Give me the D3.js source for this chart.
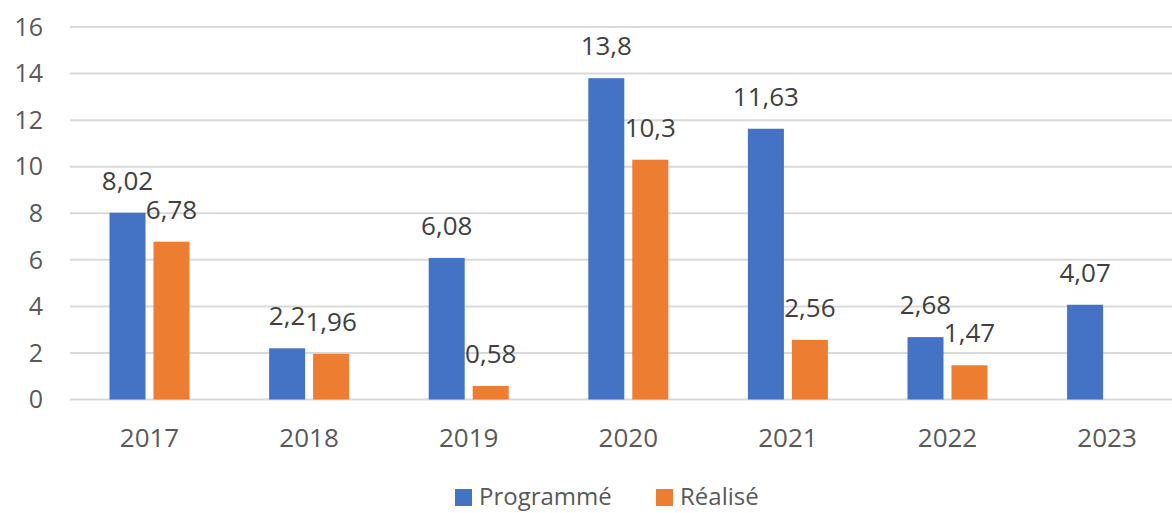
<!DOCTYPE html>
<html>
<head>
<meta charset="utf-8">
<script src="https://cdn.jsdelivr.net/npm/d3@7"></script>
<style>
  body { margin: 0; background: #fff; }
  svg { display: block; font-family: "Open Sans", "Noto Sans", sans-serif; }
</style>
</head>
<body>
<div id="chart"></div>
<script>
// data
const years = ["2017", "2018", "2019", "2020", "2021", "2022", "2023"];
const programme = [8.02, 2.2, 6.08, 13.8, 11.63, 2.68, 4.07];
const realise = [6.78, 1.96, 0.58, 10.3, 2.56, 1.47, null];
const series_names = ["Programmé", "Réalisé"];
const series_colors = ["#4472C4", "#ED7D31"];
const y_ticks = [0, 2, 4, 6, 8, 10, 12, 14, 16];

const width = 1172,
  height = 513;

const svg = d3
  .select("#chart")
  .append("svg")
  .attr("width", width)
  .attr("height", height);

// x: one band per year, the last one runs off the right edge like the source
const x = d3.scaleBand().domain(years).range([69.7, 1186.9]).padding(0);
const group_w = 80;
const xs = d3
  .scaleBand()
  .domain([0, 1])
  .range([0, group_w])
  .paddingInner(8 / 44);

const y = d3.scaleLinear().domain([0, 16]).range([399.5, 27]);

// gridlines
svg
  .append("g")
  .selectAll("line")
  .data(y_ticks)
  .join("line")
  .attr("x1", 70)
  .attr("x2", width)
  .attr("y1", (d) => y(d))
  .attr("y2", (d) => y(d))
  .attr("stroke", "#d9d9d9")
  .attr("stroke-width", 2);

// y tick labels
svg
  .append("g")
  .selectAll("text")
  .data(y_ticks)
  .join("text")
  .attr("x", 43)
  .attr("y", (d) => y(d))
  .attr("dy", "0.35em")
  .attr("text-anchor", "end")
  .style("font-size", "25px")
  .style("fill", "#595959")
  .text((d) => d);

// x labels
svg
  .append("g")
  .selectAll("text")
  .data(years)
  .join("text")
  .attr("x", (d) => x(d) + x.bandwidth() / 2)
  .attr("y", 447)
  .attr("text-anchor", "middle")
  .style("font-size", "26px")
  .style("fill", "#595959")
  .text((d) => d);

// flatten into bar records
const bars = [];
years.forEach(function (yr, i) {
  [programme[i], realise[i]].forEach(function (v, s) {
    if (v !== null) bars.push({ year: yr, series: s, value: v });
  });
});

const fmt = (v) => String(v).replace(".", ",");
const bar_x = (d) =>
  x(d.year) + (x.bandwidth() - group_w) / 2 + xs(d.series);

svg
  .append("g")
  .selectAll("rect")
  .data(bars)
  .join("rect")
  .attr("x", bar_x)
  .attr("width", xs.bandwidth())
  .attr("y", (d) => y(d.value))
  .attr("height", (d) => y(0) - y(d.value))
  .attr("fill", (d) => series_colors[d.series]);

// value labels
svg
  .append("g")
  .selectAll("text")
  .data(bars)
  .join("text")
  .attr("x", (d) => bar_x(d) + xs.bandwidth() / 2)
  .attr("y", (d) => y(d.value) - 23)
  .attr("text-anchor", "middle")
  .style("font-size", "26px")
  .style("fill", "#404040")
  .text((d) => fmt(d.value));

// legend
const legend_x = [455, 656];
const lg = svg
  .append("g")
  .selectAll("g")
  .data(series_names)
  .join("g")
  .attr("transform", (d, i) => "translate(" + legend_x[i] + ",489)");
lg.append("rect")
  .attr("width", 17)
  .attr("height", 17)
  .attr("fill", (d, i) => series_colors[i]);
lg.append("text")
  .attr("x", 24)
  .attr("y", 16)
  .style("font-size", "24px")
  .style("fill", "#595959")
  .text((d) => d);
</script>
</body>
</html>
